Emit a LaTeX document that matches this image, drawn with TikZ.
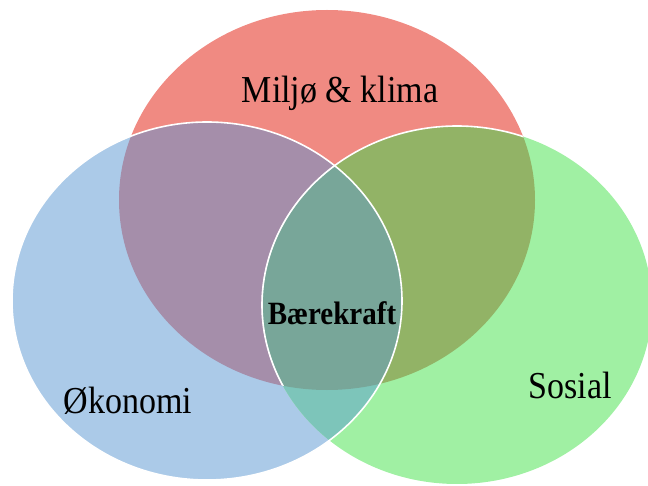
\documentclass[tikz,border=0pt]{standalone}
\usepackage{fontspec}
\usepackage{graphicx}
\setmainfont{Liberation Serif}
\newcommand{\vstretch}[1]{\scalebox{1}[1.12]{#1}}
\begin{document}
\begin{tikzpicture}[x=1pt,y=1pt,
  lbl/.style={font=\fontsize{34}{40}\selectfont, inner sep=0pt},
  lblb/.style={font=\fontsize{29}{34}\selectfont\bfseries, inner sep=0pt},
  rim/.style={white, line width=1.6pt}]
\definecolor{cred}{HTML}{F08A82}
\definecolor{cblue}{HTML}{ABCAE8}
\definecolor{cgreen}{HTML}{A0F0A3}
\definecolor{cpurple}{HTML}{A58EAA}
\definecolor{colive}{HTML}{92B366}
\definecolor{ccenter}{HTML}{78A699}
\definecolor{cteal}{HTML}{7DC5BA}
\useasboundingbox (0,0) rectangle (648,-486);
\clip (0,0) rectangle (648,-486);
\coordinate (R) at (327,-200);
\coordinate (B) at (207,-301);
\coordinate (G) at (457,-305);
% base fills
\fill[cred] (R) ellipse [x radius=208, y radius=190];
\fill[cblue] (B) ellipse [x radius=195, y radius=179];
\fill[cgreen] (G) ellipse [x radius=195, y radius=179];
% red & blue / red & green
\begin{scope}
  \clip (R) ellipse [x radius=208, y radius=190];
  \fill[cpurple] (B) ellipse [x radius=195, y radius=179];
  \fill[colive] (G) ellipse [x radius=195, y radius=179];
\end{scope}
% blue & green
\begin{scope}
  \clip (B) ellipse [x radius=195, y radius=179];
  \fill[cteal] (G) ellipse [x radius=195, y radius=179];
  \begin{scope}
    \clip (G) ellipse [x radius=195, y radius=179];
    \fill[ccenter] (R) ellipse [x radius=208, y radius=190];
  \end{scope}
\end{scope}
% outlines
\begin{scope}
  \clip (R) ellipse [x radius=208, y radius=190];
  \draw[rim] (G) ellipse [x radius=195, y radius=179];
\end{scope}
\begin{scope}
  \clip (B) ellipse [x radius=195, y radius=179];
  \clip (R) ellipse [x radius=208, y radius=190];
  \draw[white, opacity=0.45, line width=1.2pt] (G) ellipse [x radius=195, y radius=179];
\end{scope}
\draw[rim] (B) ellipse [x radius=195, y radius=179];
% labels
\node[lbl] (miljo) at (340,-93) {\vstretch{Miljø \& klima}};
\node[lbl] (okonomi) at (128,-401) {\vstretch{Økonomi}};
\node[lbl] (sosial) at (570,-385) {\vstretch{Sosial}};
\node[lblb] (baerekraft) at (332,-313) {\vstretch{Bærekraft}};
\end{tikzpicture}
\end{document}
